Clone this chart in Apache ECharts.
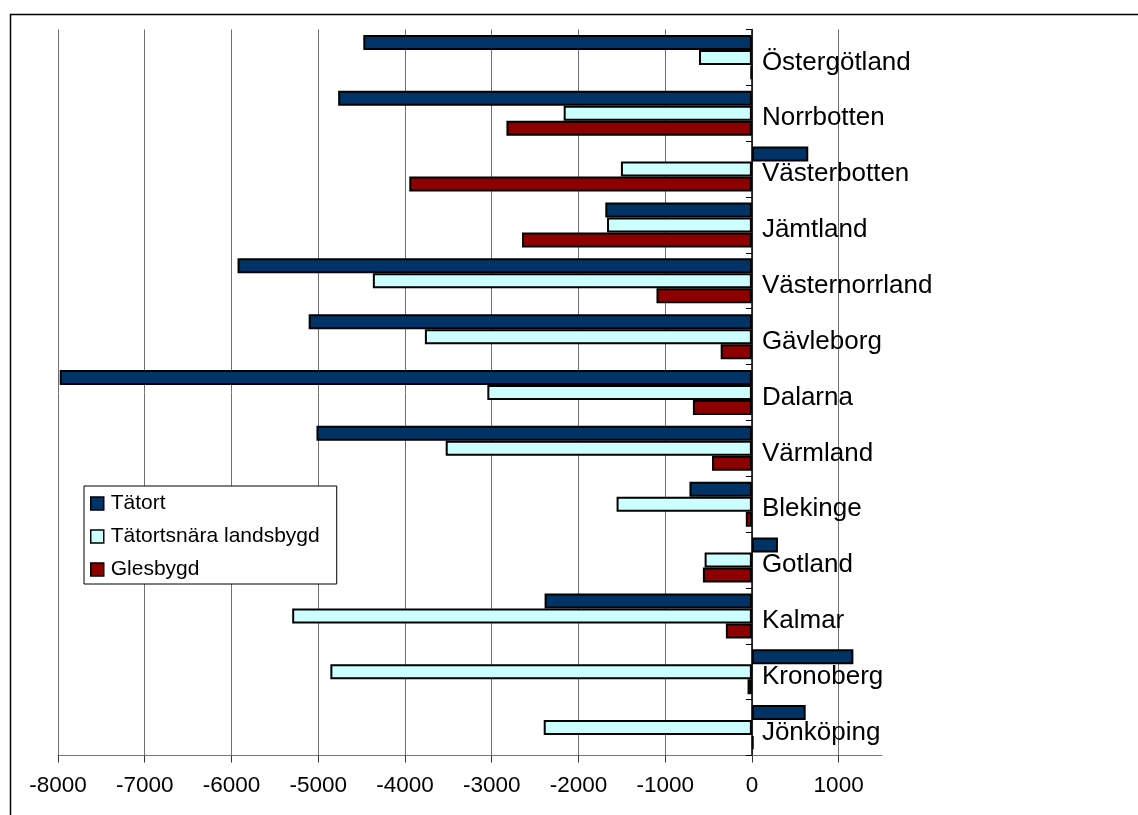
<!DOCTYPE html>
<html>
<head>
<meta charset="utf-8">
<script src="https://cdn.jsdelivr.net/npm/echarts@6.0.0/dist/echarts.min.js"></script>
<style>
html,body{margin:0;padding:0;background:#fff;}
#chart{width:1138px;height:815px;}
</style>
</head>
<body>
<div id="chart"></div>
<script>
const categories = ['Östergötland','Norrbotten','Västerbotten','Jämtland','Västernorrland','Gävleborg','Dalarna','Värmland','Blekinge','Gotland','Kalmar','Kronoberg','Jönköping'];
const tatort = [-4480,-4770,650,-1690,-5930,-5110,-7980,-5020,-720,300,-2390,1170,620];
const tatortsnara = [-610,-2170,-1510,-1670,-4370,-3770,-3050,-3530,-1560,-545,-5300,-4860,-2400];
const glesbygd = [-15,-2830,-3950,-2650,-1100,-360,-680,-460,-70,-565,-300,-50,20];
const xTicks = [-8000,-7000,-6000,-5000,-4000,-3000,-2000,-1000,0,1000];
const seriesNames = ['Tätort','Tätortsnära landsbygd','Glesbygd'];

const FONT = '"Liberation Sans", Arial, sans-serif';
const GRID_LEFT = 58, X_MIN = -8000, X_MAX = 1500, GRID_RIGHT = 256;
const chart = echarts.init(document.getElementById('chart'), null, {renderer:'canvas'});
const plotW = 1138 - GRID_LEFT - GRID_RIGHT;
const zeroOffset = (0 - X_MIN) / (X_MAX - X_MIN) * plotW;
const barStyle = c => ({color:c, borderColor:'#000', borderWidth:2});
chart.setOption({
  animation:false,
  backgroundColor:'#fff',
  textStyle:{fontFamily:FONT},
  graphic:[{type:'rect', left:8, top:12, shape:{width:1400,height:1000}, style:{fill:'none', stroke:'#000', lineWidth:1.5}, silent:true}],
  grid:{left:GRID_LEFT, right:GRID_RIGHT, top:29.5, bottom:59.5, containLabel:false, outerBoundsMode:'none'},
  legend:{
    orient:'vertical', left:84, top:486,
    data:seriesNames,
    backgroundColor:'#fff', borderColor:'#000', borderWidth:1,
    padding:[7,17,4,6],
    itemWidth:13, itemHeight:13, itemGap:12,
    icon:'rect',
    itemStyle:{borderColor:'#000', borderWidth:1.5},
    textStyle:{fontFamily:FONT, fontSize:21, color:'#000', lineHeight:20, padding:[0,0,0,2]}
  },
  xAxis:{
    type:'value', min:X_MIN, max:X_MAX,
    axisLine:{show:true, onZero:false, lineStyle:{color:'#777', width:1}},
    axisTick:{show:true, length:7, customValues:xTicks, lineStyle:{color:'#333'}},
    axisLabel:{customValues:xTicks, fontFamily:FONT, fontSize:22.5, color:'#000', margin:19, formatter:v => String(v)},
    splitLine:{show:true, lineStyle:{color:'#707070', width:1}}
  },
  yAxis:{
    type:'category', data:categories, inverse:true,
    axisLine:{show:true, onZero:true, lineStyle:{color:'#000', width:1.5}},
    axisTick:{show:true, inside:false, length:6, lineStyle:{color:'#000'}},
    axisLabel:{
      inside:true, margin:zeroOffset + 10,
      formatter:v => '{c|' + v + '}',
      rich:{c:{fontFamily:FONT, fontSize:26, color:'#000', lineHeight:30, padding:[10,0,0,0]}}
    },
    splitLine:{show:false}
  },
  series:[
    {name:seriesNames[0], type:'bar', data:tatort, barWidth:15, barGap:'0%', itemStyle:barStyle('#003366')},
    {name:seriesNames[1], type:'bar', data:tatortsnara, barWidth:15, barGap:'0%', itemStyle:barStyle('#CCFFFF')},
    {name:seriesNames[2], type:'bar', data:glesbygd, barWidth:15, barGap:'0%', itemStyle:barStyle('#8C0000')}
  ]
});
</script>
</body>
</html>
